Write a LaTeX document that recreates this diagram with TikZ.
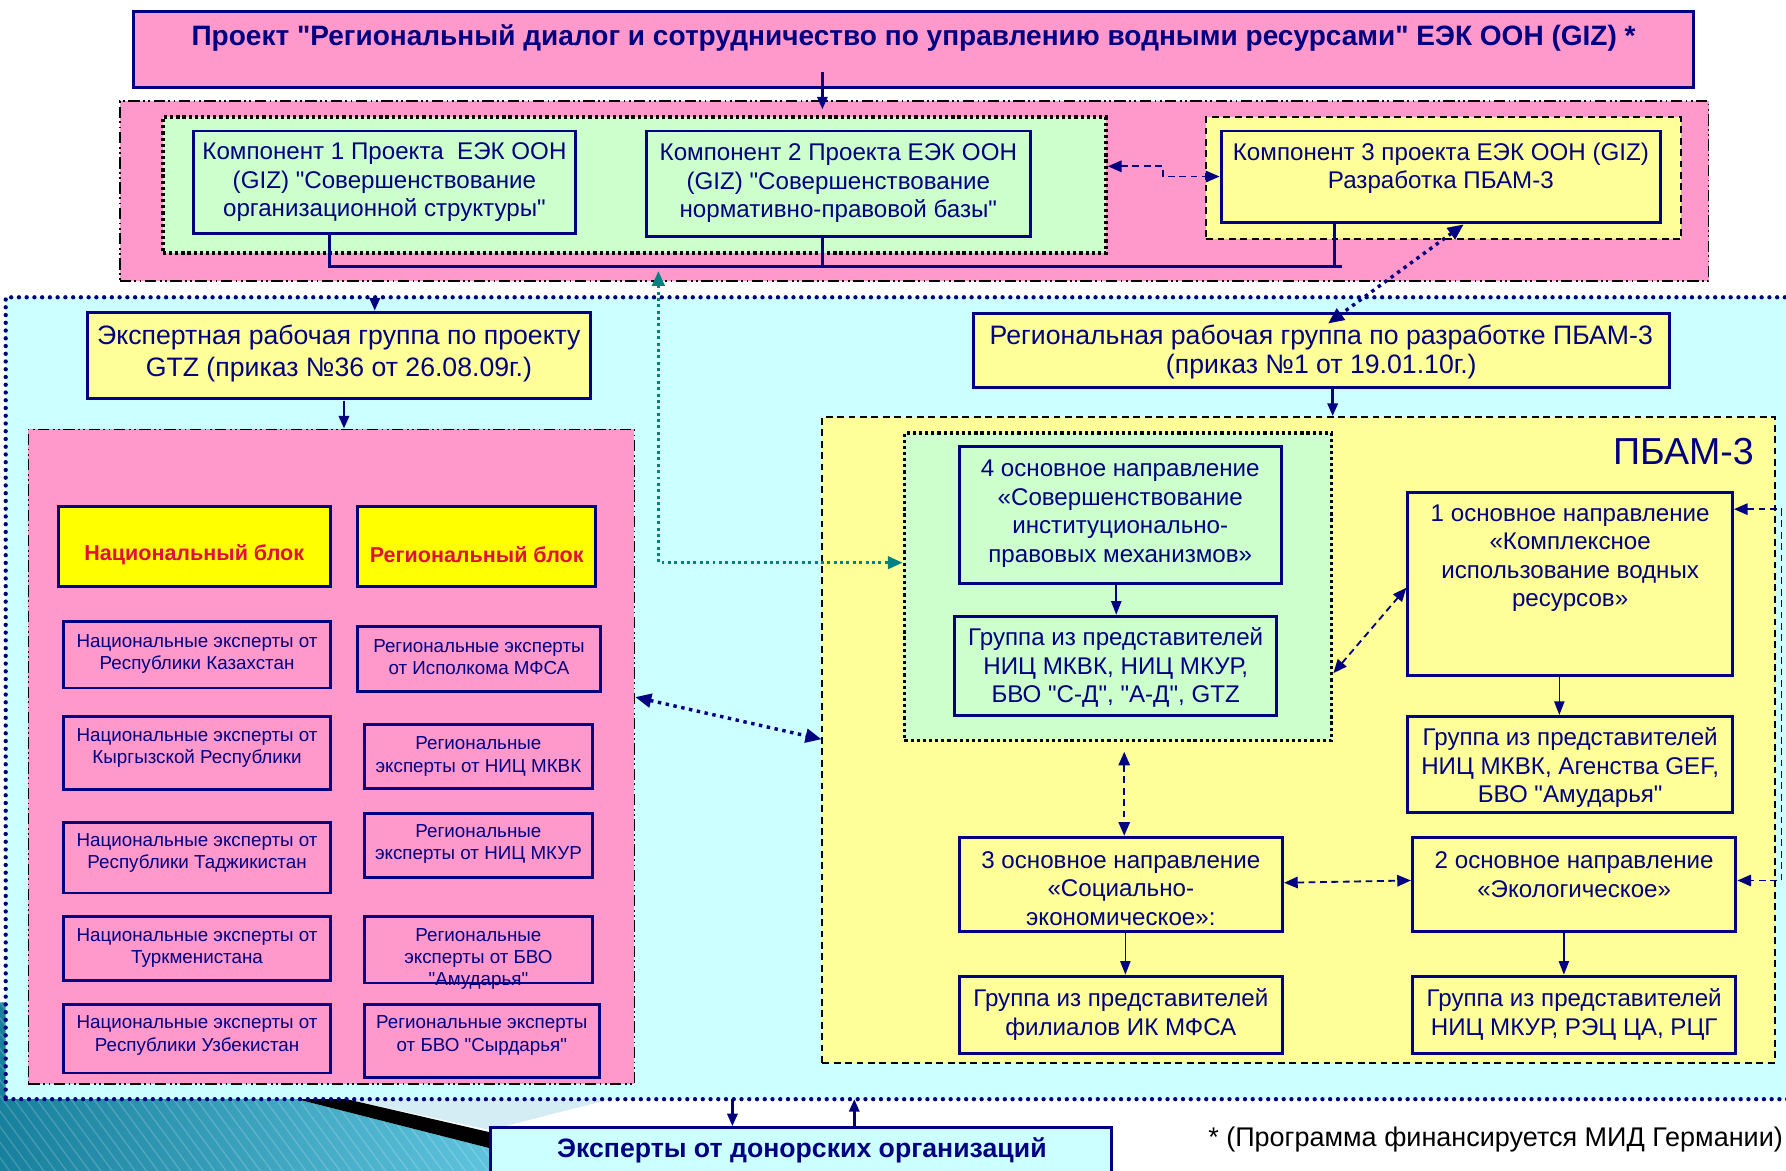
\documentclass[tikz,border=0pt]{standalone}
\usepackage{fontspec}
\setmainfont{Liberation Sans}[Ligatures=TeXOff]
\usetikzlibrary{arrows.meta,fit,calc}
\definecolor{navy}{HTML}{000080}
\definecolor{pinkf}{HTML}{FF99CC}
\definecolor{greenf}{HTML}{CCFFCC}
\definecolor{yelf}{HTML}{FFFF99}
\definecolor{cyanf}{HTML}{CCFFFF}
\definecolor{yelb}{HTML}{FFFF00}
\definecolor{redt}{HTML}{E0103A}
\definecolor{tealc}{HTML}{008080}
\definecolor{decoA}{HTML}{17809C}
\definecolor{decoB}{HTML}{5EC3DD}
\definecolor{decoL}{HTML}{D4ECF3}
\begin{document}
\begin{tikzpicture}[x=0.5pt,y=-0.5pt,
  bx/.style={draw=navy, line width=1.3pt, inner sep=0pt},
  pinkgrp/.style={draw=black, fill=pinkf, line width=0.8pt, inner sep=0pt,
    dash pattern=on 5pt off 1.5pt on 0.8pt off 1.5pt on 0.8pt off 1.5pt},
  greengrp/.style={draw=black, fill=greenf, line width=1.6pt, inner sep=0pt,
    dash pattern=on 1.4pt off 1.3pt},
  yelgrp/.style={draw=black, fill=yelf, line width=0.8pt, inner sep=0pt,
    dash pattern=on 3pt off 2pt},
  cyangrp/.style={draw=navy, fill=cyanf, line width=1.9pt, inner sep=0pt,
    line cap=round, dash pattern=on 0pt off 3.4pt},
  txt/.style={text=navy, align=center, inner sep=0pt, font=\fontsize{10.6}{12.5}\selectfont},
  bigtxt/.style={txt, font=\fontsize{11.7}{14}\selectfont},
  smalltxt/.style={txt, font=\fontsize{8.25}{9.8}\selectfont},
  blocktxt/.style={text=redt, inner sep=0pt, font=\bfseries\fontsize{9.45}{11}\selectfont},
  arr/.style={navy, line width=1.1pt, -{Triangle[length=5.5pt,width=4.5pt]}},
  thinarr/.style={navy, line width=0.7pt, -{Triangle[length=6pt,width=4.5pt]}},
  dasharr/.style={navy, line width=0.8pt, dash pattern=on 3pt off 2pt,
    {Triangle[length=6pt,width=5pt]}-{Triangle[length=6pt,width=5pt]}},
  dotarr/.style={navy, line width=1.5pt, dash pattern=on 1.5pt off 2pt,
    {Triangle[length=7pt,width=6pt]}-{Triangle[length=7pt,width=6pt]}},
  tealarr/.style={tealc, line width=1.3pt, dash pattern=on 1.3pt off 1.5pt,
    {Triangle[length=6.5pt,width=5.5pt]}-{Triangle[length=6.5pt,width=5.5pt]}}
]
\clip (0,0) rectangle (1568,1028);
\fill[white] (0,0) rectangle (1568,1028);

% ---------- background decoration (bottom left) ----------
\shade[left color=decoA, right color=decoB] (0,880) -- (5,880) -- (5,964) -- (257,964) -- (430,1008) -- (430,1028) -- (0,1028) -- cycle;
\begin{scope}
  \clip (0,880) -- (5,880) -- (5,964) -- (257,964) -- (430,1008) -- (430,1028) -- (0,1028) -- cycle;
  \foreach \i in {-120,-110,...,440} \draw[white, opacity=0.18, line width=0.6pt] (\i,880) -- ++(110,150);
\end{scope}
\fill[decoL] (300,964) -- (540,964) -- (430,992) -- cycle;
\fill[black] (257,964) -- (300,964) -- (430,994) -- (430,1008) -- cycle;

% ---------- top ----------
\node[bx, fill=pinkf, fit={(117,10)(1487,77)}] (title) {};
\node[txt, font=\bfseries\fontsize{12.3}{14}\selectfont] (titlet) at (802,33)
  {Проект "Региональный диалог и сотрудничество по управлению водными ресурсами" ЕЭК ООН (GIZ) *};

\node[pinkgrp, fit={(105,89)(1500,247)}] (ptop) {};
\node[greengrp, fit={(143,103)(971,222)}] (gtop) {};
\node[yelgrp, fit={(1059,103)(1476,210)}] (ytop) {};

\node[bx, fill=greenf, fit={(170,115)(505,205)}] (c1) {};
\node[txt] (c1t) at (c1.center) {Компонент 1 Проекта\ \ ЕЭК ООН\\(GIZ) "Совершенствование\\организационной структуры"};
\node[bx, fill=greenf, fit={(568,115)(905,208)}] (c2) {};
\node[txt] (c2t) at (736,161) {Компонент 2 Проекта ЕЭК ООН\\(GIZ) "Совершенствование\\нормативно-правовой базы"};
\node[bx, fill=yelf, fit={(1072,115)(1458,195)}] (c3) {};
\node[txt] (c3t) at (1265,147.5) {Компонент 3 проекта ЕЭК ООН (GIZ)\\Разработка ПБАМ-3};

% ---------- cyan area ----------
\node[cyangrp, fit={(5,261)(1590,965)}] (cyan) {};

\node[bx, fill=yelf, fit={(77,274)(518,350)}] (expert) {};
\node[bigtxt] (expertt) at (297.5,310) {Экспертная рабочая группа по проекту\\GTZ (приказ №36 от 26.08.09г.)};

\node[bx, fill=yelf, fit={(855,275)(1466,340)}] (rwg) {};
\node[bigtxt, font=\fontsize{11.7}{13}\selectfont] (rwgt) at (1160,309) {Региональная рабочая группа по разработке ПБАМ-3\\(приказ №1 от 19.01.10г.)};

% national / regional experts
\node[pinkgrp, fit={(25,377)(557,952)}] (pn) {};
\node[bx, fill=yelb, fit={(51,445)(290,515)}] (nb) {};
\node[blocktxt] (nbt) at (170.5,487) {Национальный блок};
\node[bx, fill=yelb, fit={(314,445)(523,515)}] (rb) {};
\node[blocktxt] (rbt) at (418.5,487) {Региональный блок};

\node[bx, fill=pinkf, fit={(56,546)(290,604)}] (n1) {};
\node[smalltxt] (n1t) at (173,574) {Национальные эксперты от\\Республики Казахстан};
\node[bx, fill=pinkf, fit={(56,629)(290,693)}] (n2) {};
\node[smalltxt] (n2t) at (173,656.5) {Национальные эксперты от\\Кыргызской Республики};
\node[bx, fill=pinkf, fit={(56,722)(290,784)}] (n3) {};
\node[smalltxt] (n3t) at (173,749) {Национальные эксперты от\\Республики Таджикистан};
\node[bx, fill=pinkf, fit={(56,805)(290,861)}] (n4) {};
\node[smalltxt] (n4t) at (173,832.5) {Национальные эксперты от\\Туркменистана};
\node[bx, fill=pinkf, fit={(56,882)(290,942)}] (n5) {};
\node[smalltxt] (n5t) at (173,909) {Национальные эксперты от\\Республики Узбекистан};

\node[bx, fill=pinkf, fit={(314,550)(527,607)}] (r1) {};
\node[smalltxt] (r1t) at (420.5,577) {Региональные эксперты\\от Исполкома МФСА};
\node[bx, fill=pinkf, fit={(320,636)(520,692)}] (r2) {};
\node[smalltxt] (r2t) at (420,664) {Региональные\\эксперты от НИЦ МКВК};
\node[bx, fill=pinkf, fit={(320,714)(520,770)}] (r3) {};
\node[smalltxt] (r3t) at (420,741) {Региональные\\эксперты от НИЦ МКУР};
\node[bx, fill=pinkf, fit={(320,805)(520,863)}] (r4) {};
\node[smalltxt] (r4t) at (420,842) {Региональные\\эксперты от БВО\\"Амударья"};
\node[bx, fill=pinkf, fit={(320,882)(526,946)}] (r5) {};
\node[smalltxt] (r5t) at (423,909) {Региональные эксперты\\от БВО "Сырдарья"};

% PBAM-3
\node[yelgrp, fit={(722,366)(1558,933)}] (pbam) {};
\node[text=navy, inner sep=0pt, font=\fontsize{16.5}{19}\selectfont] (pbamt) at (1478,396) {ПБАМ-3};
\node[greengrp, fit={(794,380)(1169,650)}] (gin) {};

\node[bx, fill=greenf, fit={(842,392)(1125,512)}] (d4) {};
\node[txt] (d4t) at (983.5,451) {4 основное направление\\«Совершенствование\\институционально-\\правовых механизмов»};
\node[bx, fill=greenf, fit={(838,541)(1121,628)}] (g4) {};
\node[txt] (g4t) at (979.5,586) {Группа из представителей\\НИЦ МКВК, НИЦ МКУР,\\БВО "С-Д", "А-Д", GTZ};

\node[bx, fill=yelf, fit={(1236,432)(1521,593)}] (d1) {};
\node[txt] (d1t) at (1378.5,490) {1 основное направление\\«Комплексное\\использование водных\\ресурсов»};
\node[bx, fill=yelf, fit={(1236,629)(1521,713)}] (g1) {};
\node[txt] (g1t) at (1378.5,674) {Группа из представителей\\НИЦ МКВК, Агенства GEF,\\БВО "Амударья"};

\node[bx, fill=yelf, fit={(842,735)(1126,818)}] (d3) {};
\node[txt] (d3t) at (984,780) {3 основное направление\\«Социально-\\экономическое»:};
\node[bx, fill=yelf, fit={(842,857)(1126,925)}] (g3) {};
\node[txt] (g3t) at (984,890.5) {Группа из представителей\\филиалов ИК МФСА};

\node[bx, fill=yelf, fit={(1240,735)(1524,818)}] (d2) {};
\node[txt] (d2t) at (1382,768) {2 основное направление\\«Экологическое»};
\node[bx, fill=yelf, fit={(1240,857)(1524,925)}] (g2) {};
\node[txt] (g2t) at (1382,890.5) {Группа из представителей\\НИЦ МКУР, РЭЦ ЦА, РЦГ};

% bottom
\node[bx, fill=cyanf, fit={(431,990)(976,1045)}] (donor) {};
\node[text=navy, inner sep=0pt, font=\bfseries\fontsize{11.7}{13}\selectfont] (donort) at (704,1010) {Эксперты от донорских организаций};
\node[text=black, inner sep=0pt, font=\fontsize{11.85}{13}\selectfont] (foot) at (1313,1000) {* (Программа финансируется МИД Германии)};

% ---------- connectors ----------
\coordinate (ta) at (722,63);
\draw[arr] (ta) -- (722,96);

\coordinate (bl) at (289,234);
\coordinate (bm) at (722,234);
\coordinate (bc) at (1172,234);
\coordinate (br) at (1178,234);
\draw[navy, line width=1.3pt] (c1.south -| bl) -- (bl) -- (br);
\draw[navy, line width=1.3pt] (c2.south -| bm) -- (bm);
\draw[navy, line width=1.3pt] (c3.south -| bc) -- (bc);

\coordinate (k1) at (1021,146);
\coordinate (k2) at (1021,155);
\draw[dasharr] (gtop.east |- k1) -- (k1) -- (k2) -- (c3.west |- k2);

\coordinate (s1) at (1285,197);
\coordinate (s2) at (1166,284);
\draw[dotarr] (s1) -- (s2);

\coordinate (e1) at (329,261);
\draw[arr] (e1) -- (e1 |- expert.north);
\coordinate (e2) at (302,352);
\draw[arr] (e2) -- (e2 |- pn.north);
\coordinate (e3) at (1170,341);
\draw[arr] (e3) -- (e3 |- pbam.north);

\coordinate (tt) at (578,238);
\coordinate (tc) at (578,494);
\draw[tealarr] (tt) -- (tc) -- (tc -| gin.west);

\coordinate (nd1) at (0,612);
\coordinate (nd2) at (0,649);
\draw[dotarr] (pn.east |- nd1) -- (pbam.west |- nd2);

\coordinate (x4) at (980,0);
\draw[thinarr] (d4.south -| x4) -- (g4.north -| x4);
\coordinate (x1) at (1369,0);
\draw[thinarr] (d1.south -| x1) -- (g1.north -| x1);
\coordinate (x3) at (988,0);
\draw[thinarr] (d3.south -| x3) -- (g3.north -| x3);
\coordinate (x2) at (1373,0);
\draw[thinarr] (d2.south -| x2) -- (g2.north -| x2);

\coordinate (q1) at (0,591);
\coordinate (q2) at (0,516);
\draw[dasharr] (gin.east |- q1) -- (d1.west |- q2);
\coordinate (v1) at (987,660);
\draw[dasharr] (v1) -- (v1 |- d3.north);
\coordinate (h1) at (0,775);
\coordinate (h2) at (0,773);
\draw[dasharr] (d3.east |- h1) -- (d2.west |- h2);
\coordinate (rr) at (1564,447);
\draw[dasharr] (d1.east |- rr) -- (rr) -- (rr |- h2) -- (d2.east |- h2);

\coordinate (u1) at (643,965);
\draw[arr] (u1) -- (u1 |- donor.north);
\coordinate (u2) at (750,965);
\draw[arr] (u2 |- donor.north) -- (u2);
\end{tikzpicture}
\end{document}
